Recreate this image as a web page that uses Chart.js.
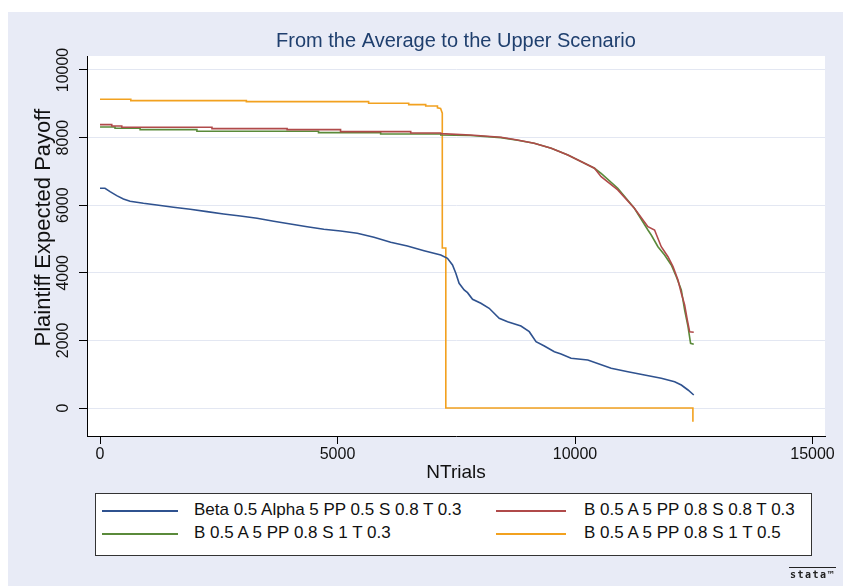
<!DOCTYPE html>
<html>
<head>
<meta charset="utf-8">
<script src="https://cdn.jsdelivr.net/npm/chart.js@4/dist/chart.umd.min.js"></script>
<style>
  html, body { margin: 0; padding: 0; background: #fff; }
  #frame { position: absolute; left: 8px; top: 12px; width: 835px; height: 574px; background: #e8ebf6; }
  #frame canvas { position: absolute; left: 0; top: 0; }
  #legend {
    position: absolute; left: 87px; top: 481px; width: 717px; height: 63px;
    background: #fff; border: 1px solid #333; box-sizing: border-box;
    font-family: "Liberation Sans", Arial, sans-serif; font-size: 17px; color: #111;
  }
  #legend .item { position: absolute; height: 20px; line-height: 20px; white-space: nowrap; }
  #legend .swatch { position: absolute; top: 10px; height: 1.5px; }
  #legend .label { position: absolute; top: 0; }
  #stata {
    position: absolute; left: 781px; top: 555px; width: 47px; text-align: center;
    border-top: 1px solid #222; padding-top: 1px;
    font: bold 10px "DejaVu Sans Mono", monospace; letter-spacing: 1.5px; color: #222;
  }
</style>
</head>
<body>
<div id="frame">
  <canvas id="chart" width="835" height="574"></canvas>
  <div id="legend"></div>
  <div id="stata">stata&trade;</div>
</div>
<script>
'use strict';

var chartTitle = 'From the Average to the Upper Scenario';
var xTitle = 'NTrials';
var yTitle = 'Plaintiff Expected Payoff';
var xTicks = [0, 5000, 10000, 15000];
var yTicks = [0, 2000, 4000, 6000, 8000, 10000];

var seriesNames = [
  'Beta 0.5 Alpha 5 PP 0.5 S 0.8 T 0.3',
  'B 0.5 A 5 PP 0.8 S 0.8 T 0.3',
  'B 0.5 A 5 PP 0.8 S 1 T 0.3',
  'B 0.5 A 5 PP 0.8 S 1 T 0.5'
];
var seriesColors = ['#2f528f', '#b04a4a', '#5a8a3a', '#f2a11f'];

// Beta 0.5 Alpha 5 PP 0.5 S 0.8 T 0.3
var blueX = [0, 105, 211, 352, 492, 633, 914, 1196, 1547, 1899, 2251, 2602, 2954, 3306, 3657, 4009,
  4361, 4712, 5064, 5416, 5767, 6119, 6471, 6822, 7174, 7315, 7421, 7491, 7560, 7666, 7737, 7843,
  8018, 8193, 8404, 8581, 8862, 9037, 9179, 9354, 9565, 9706, 9917, 10269, 10761, 11113, 11464,
  11816, 12097, 12238, 12379, 12500];
var blueY = [6501, 6501, 6401, 6283, 6185, 6116, 6057, 6007, 5939, 5880, 5809, 5741, 5681, 5613, 5524, 5445,
  5365, 5288, 5238, 5169, 5051, 4903, 4794, 4655, 4527, 4430, 4231, 3986, 3690, 3492, 3413, 3216,
  3098, 2950, 2654, 2554, 2426, 2258, 1962, 1835, 1666, 1600, 1470, 1420, 1175, 1075, 976,
  879, 778, 681, 533, 385];

// B 0.5 A 5 PP 0.8 S 0.8 T 0.3
var redX = [0, 247, 247, 458, 458, 2357, 2357, 3939, 3939, 5064, 5064, 6541, 6541, 7174, 7174,
  7800, 8440, 8790, 9140, 9500, 9850, 10200, 10410, 10550, 10900, 11250, 11535, 11675, 11816,
  11957, 12063, 12168, 12238, 12308, 12364, 12413, 12500];
var redY = [8383, 8383, 8344, 8344, 8306, 8306, 8265, 8265, 8235, 8235, 8176, 8176, 8137, 8137, 8117,
  8078, 8010, 7930, 7832, 7685, 7486, 7240, 7093, 6845, 6451, 5909, 5365, 5267, 4773,
  4477, 4181, 3787, 3393, 3048, 2604, 2258, 2240];

// B 0.5 A 5 PP 0.8 S 1 T 0.3
var greenX = [0, 316, 316, 844, 844, 2040, 2040, 4600, 4600, 5908, 5908, 7174, 7174,
  7800, 8440, 8790, 9140, 9500, 9850, 10200, 10410, 10550, 10900, 11250, 11535, 11605, 11746,
  11886, 12027, 12133, 12238, 12308, 12379, 12433, 12500];
var greenY = [8315, 8315, 8276, 8276, 8235, 8235, 8186, 8186, 8146, 8146, 8108, 8108, 8078,
  8060, 8000, 7920, 7832, 7685, 7486, 7240, 7093, 6944, 6501, 5909, 5267, 5119, 4773,
  4527, 4231, 3885, 3492, 2900, 2406, 1914, 1885];

// B 0.5 A 5 PP 0.8 S 1 T 0.5
var orangeX = [0, 648, 648, 3081, 3081, 5655, 5655, 6499, 6499, 6857, 6857, 7104, 7104, 7170,
  7206, 7206, 7280, 7280, 12482, 12482];
var orangeY = [9134, 9134, 9093, 9093, 9063, 9063, 9016, 9016, 8975, 8975, 8936, 8936, 8880, 8860,
  8720, 4734, 4734, 0, 0, -405];

var seriesX = [blueX, redX, greenX, orangeX];
var seriesY = [blueY, redY, greenY, orangeY];

function toPoints(xs, ys) {
  return xs.map(function(x, i) { return { x: x, y: ys[i] }; });
}

var plotBackground = {
  id: 'plotBackground',
  beforeDraw: function(chart) {
    var a = chart.chartArea;
    chart.ctx.save();
    chart.ctx.fillStyle = '#fff';
    chart.ctx.fillRect(a.left, a.top, a.right - a.left, a.bottom - a.top);
    chart.ctx.restore();
  }
};

var font = '"Liberation Sans", Arial, sans-serif';
function plainNumber(v) { return String(v); }

new Chart(document.getElementById('chart'), {
  type: 'line',
  data: {
    datasets: seriesNames.map(function(name, i) {
      return {
        label: name,
        data: toPoints(seriesX[i], seriesY[i]),
        borderColor: seriesColors[i],
        backgroundColor: seriesColors[i],
        borderWidth: 1.6,
        pointRadius: 0,
        tension: 0,
        fill: false
      };
    })
  },
  options: {
    responsive: false,
    animation: false,
    events: [],
    layout: { padding: { left: 0, top: 0, right: 18, bottom: 90 } },
    plugins: {
      legend: { display: false },
      tooltip: { enabled: false },
      title: {
        display: true,
        text: chartTitle,
        fullSize: false,
        color: '#1f3f6e',
        font: { family: font, size: 20, weight: 'normal', lineHeight: 1.2 },
        padding: { top: 17, bottom: 3 }
      }
    },
    scales: {
      x: {
        type: 'linear',
        min: -274,
        max: 15263,
        afterBuildTicks: function(scale) {
          scale.ticks = xTicks.map(function(v) { return { value: v }; });
        },
        afterFit: function(scale) { scale.height = 60; },
        border: { display: true, color: '#000', width: 1 },
        grid: { drawOnChartArea: false, tickColor: '#000', tickLength: 8 },
        ticks: {
          color: '#111', padding: 1, maxRotation: 0, autoSkip: false,
          font: { family: font, size: 16 },
          callback: plainNumber
        },
        title: {
          display: true, text: xTitle, color: '#111',
          font: { family: font, size: 19, lineHeight: 1.2 },
          padding: { top: 0, bottom: 12 }
        }
      },
      y: {
        type: 'linear',
        min: -828,
        max: 10414,
        afterBuildTicks: function(scale) {
          scale.ticks = yTicks.map(function(v) { return { value: v }; });
        },
        afterFit: function(scale) { scale.width = 79; },
        border: { display: true, color: '#000', width: 1 },
        grid: { color: '#e3e7f2', lineWidth: 1, tickColor: '#000', tickLength: 8 },
        ticks: {
          color: '#111', padding: -7, minRotation: 90, maxRotation: 90,
          crossAlign: 'center', autoSkip: false,
          font: { family: font, size: 16 },
          callback: plainNumber
        },
        title: {
          display: true,
          // leading spaces lift the title a little, as in the original
          text: '\u00a0\u00a0\u00a0\u00a0\u00a0\u00a0' + yTitle,
          color: '#111',
          font: { family: font, size: 22, lineHeight: 1.2 },
          padding: { top: 23, bottom: 0 }
        }
      }
    }
  },
  plugins: [plotBackground]
});

// legend box, two columns like the original
var legend = document.getElementById('legend');
var colLine = [[6, 76], [400, 70]];
var colText = [98, 488];
var rowTop = [16, 39];
seriesNames.forEach(function(name, i) {
  var col = i % 2, row = Math.floor(i / 2);
  var item = document.createElement('div');
  item.className = 'item';
  item.style.left = '0px';
  item.style.top = (rowTop[row] - 10) + 'px';
  var sw = document.createElement('div');
  sw.className = 'swatch';
  sw.style.left = colLine[col][0] + 'px';
  sw.style.width = colLine[col][1] + 'px';
  sw.style.background = seriesColors[i];
  var lb = document.createElement('div');
  lb.className = 'label';
  lb.style.left = colText[col] + 'px';
  lb.textContent = name;
  item.appendChild(sw);
  item.appendChild(lb);
  legend.appendChild(item);
});
</script>
</body>
</html>
